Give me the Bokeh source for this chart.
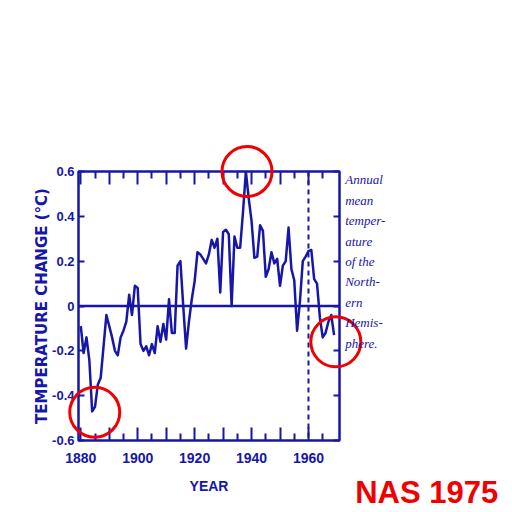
from bokeh.plotting import figure
from bokeh.models import (LinearAxis, FixedTicker, Span, Range1d,
                          ColumnDataSource)
from bokeh.core.properties import value
from bokeh.embed import file_html
from bokeh.resources import INLINE

# ---------------- data ----------------
years = list(range(1880, 1970))
temp_change = [
    -0.09, -0.21, -0.14, -0.24, -0.47, -0.45, -0.35, -0.32, -0.18, -0.04,   # 1880s
    -0.09, -0.14, -0.20, -0.22, -0.14, -0.11, -0.07, 0.05, -0.04, 0.09,     # 1890s
    0.08, -0.17, -0.20, -0.18, -0.22, -0.17, -0.21, -0.09, -0.16, -0.08,    # 1900s
    -0.15, 0.03, -0.12, -0.12, 0.18, 0.20, 0.00, -0.19, -0.07, 0.03,        # 1910s
    0.11, 0.24, 0.23, 0.21, 0.19, 0.23, 0.295, 0.26, 0.30, 0.06,            # 1920s
    0.33, 0.34, 0.32, 0.00, 0.31, 0.26, 0.26, 0.42, 0.60, 0.48,             # 1930s
    0.38, 0.215, 0.22, 0.36, 0.335, 0.13, 0.165, 0.24, 0.19, 0.21,          # 1940s
    0.09, 0.18, 0.20, 0.35, 0.165, 0.115, -0.11, 0.02, 0.20, 0.22,          # 1950s
    0.245, 0.25, 0.12, 0.10, -0.05, -0.14, -0.12, -0.07, -0.04, -0.13,      # 1960s
]

x_major_ticks = [1880, 1890, 1900, 1910, 1920, 1930, 1940, 1950, 1960]
x_minor_ticks = [1885, 1895, 1905, 1915, 1925, 1935, 1945, 1955, 1965]
x_tick_labels = {1880: "1880", 1890: "", 1900: "1900", 1910: "", 1920: "1920",
                 1930: "", 1940: "1940", 1950: "", 1960: "1960"}
y_ticks = [-0.6, -0.4, -0.2, 0.0, 0.2, 0.4, 0.6]
y_tick_labels = {-0.6: "-0.6", -0.4: "-0.4", -0.2: "-0.2", 0.0: "0",
                 0.2: "0.2", 0.4: "0.4", 0.6: "0.6"}

# highlighted points (red circles)
circle_years = [1938.4, 1884.9, 1969.6]
circle_values = [0.60, -0.474, -0.16]

divider_year = 1960
side_note = "Annual\nmean\ntemper-\nature\nof the\nNorth-\nern\nHemis-\nphere."
note_pos = (1972.9, 0.596)
stamp = "NAS 1975"
stamp_pos = (1976.4, -0.752)

BLUE = "#1616a8"
RED = "#f00000"
SANS = "'Liberation Sans Narrow', 'Liberation Sans', sans-serif"

p = figure(width=510, height=510, output_backend="svg", toolbar_location=None,
           x_range=Range1d(1879.2, 1970.9), y_range=Range1d(-0.6, 0.6),
           min_border_left=78, min_border_right=171,
           min_border_top=171, min_border_bottom=70,
           background_fill_color="white", border_fill_color="white")
p.grid.visible = False
p.outline_line_color = BLUE
p.outline_line_width = 2.5
p.outline_line_alpha = 1.0

def style_x(ax, labels=True):
    ax.ticker = FixedTicker(ticks=x_major_ticks, minor_ticks=x_minor_ticks)
    ax.axis_line_color = None
    ax.major_tick_in = 13
    ax.major_tick_out = 0
    ax.minor_tick_in = 7
    ax.minor_tick_out = 0
    ax.major_tick_line_color = BLUE
    ax.minor_tick_line_color = BLUE
    ax.major_tick_line_width = 2
    ax.minor_tick_line_width = 2
    if labels:
        ax.major_label_overrides = x_tick_labels
        ax.major_label_text_color = BLUE
        ax.major_label_text_font = SANS
        ax.major_label_text_font_style = "bold"
        ax.major_label_text_font_size = "14px"
        ax.major_label_standoff = 12
    else:
        ax.major_label_text_font_size = "0px"
        ax.major_label_text_color = None

def style_y(ax, labels=True):
    ax.ticker = FixedTicker(ticks=y_ticks, minor_ticks=[])
    ax.axis_line_color = None
    ax.major_tick_in = 6
    ax.major_tick_out = 0
    ax.minor_tick_in = 0
    ax.minor_tick_out = 0
    ax.major_tick_line_color = BLUE
    ax.major_tick_line_width = 2
    if labels:
        ax.major_label_overrides = y_tick_labels
        ax.major_label_text_color = BLUE
        ax.major_label_text_font = SANS
        ax.major_label_text_font_style = "bold"
        ax.major_label_text_font_size = "13px"
        ax.major_label_standoff = 4
    else:
        ax.major_label_text_font_size = "0px"
        ax.major_label_text_color = None

xb = p.xaxis[0]
style_x(xb)
xb.axis_label = "YEAR"
xb.axis_label_text_color = BLUE
xb.axis_label_text_font = SANS
xb.axis_label_text_font_style = "bold"
xb.axis_label_text_font_size = "14px"
xb.axis_label_standoff = 12

yl = p.yaxis[0]
style_y(yl)
yl.axis_label = "TEMPERATURE CHANGE (°C)"
yl.axis_label_text_color = BLUE
yl.axis_label_text_font = "DejaVu Sans"
yl.axis_label_text_font_style = "bold"
yl.axis_label_text_font_size = "15px"
yl.axis_label_standoff = -2

xt = LinearAxis()
style_x(xt, labels=False)
p.add_layout(xt, "above")

yr = LinearAxis()
style_y(yr, labels=False)
p.add_layout(yr, "right")

# zero line and 1960 divider
p.add_layout(Span(location=0, dimension="width", line_color=BLUE, line_width=2.5))
p.add_layout(Span(location=divider_year, dimension="height", line_color=BLUE,
                  line_width=2, line_dash="5 4"))

src = ColumnDataSource(dict(year=years, temp=temp_change))
p.line("year", "temp", source=src, line_color=BLUE, line_width=2.5,
       line_join="round")

p.scatter(circle_years, circle_values, marker="circle", size=50,
          fill_color=None, line_color=RED, line_width=3, level="overlay")

p.text(x=[note_pos[0]], y=[note_pos[1]], text=[side_note], text_color=BLUE,
       text_font=value("Liberation Serif"), text_font_style="italic",
       text_font_size="13px", text_line_height=1.36,
       text_baseline="top", text_align="left", level="overlay")

p.text(x=[stamp_pos[0]], y=[stamp_pos[1]], text=[stamp], text_color=RED,
       text_font=value("Liberation Sans"), text_font_style="bold",
       text_font_size="31px", text_baseline="top",
       text_align="left", level="overlay")

open("out.html", "w").write(file_html(p, INLINE))
